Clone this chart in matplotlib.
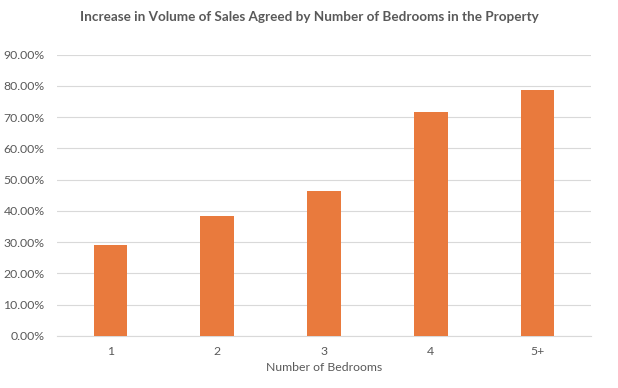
import matplotlib
matplotlib.use("Agg")
import matplotlib.pyplot as plt
from matplotlib.ticker import FuncFormatter, MultipleLocator

categories = ["1", "2", "3", "4", "5+"]
values = [0.291, 0.383, 0.464, 0.716, 0.788]

plt.rcParams['font.family'] = ['Lato', 'DejaVu Sans']
text_color = "#595959"

fig = plt.figure(figsize=(6.18, 3.88), dpi=100)
ax = fig.add_axes([57/618, 1 - 336/388, (591-57)/618, (336-54.7)/388])

x = range(len(categories))
ax.bar(x, values, width=0.315, color="#E97A3D", zorder=3)
ax.set_xlim(-0.5, len(categories) - 0.5)
ax.set_ylim(0, 0.9)
ax.yaxis.set_major_locator(MultipleLocator(0.1))
ax.yaxis.set_major_formatter(FuncFormatter(lambda v, p: f"{v*100:.2f}%"))
ax.set_xticks(list(x))
ax.set_xticklabels(categories)
ax.grid(axis='y', color="#d9d9d9", linewidth=0.8, zorder=0)
for s in ['top', 'right', 'left']:
    ax.spines[s].set_visible(False)
ax.spines['bottom'].set_color("#d9d9d9")
ax.spines['bottom'].set_linewidth(0.8)
ax.tick_params(axis='both', length=0, colors=text_color, labelsize=8.8)
ax.tick_params(axis='y', pad=9)
ax.tick_params(axis='x', pad=7)
ax.set_xlabel("Number of Bedrooms", color=text_color, fontsize=8.8, labelpad=4)
fig.text(0.5, 1 - 17/388, "Increase in Volume of Sales Agreed by Number of Bedrooms in the Property",
         ha='center', va='center', fontsize=9.7, fontweight='bold', color=text_color)
fig.savefig("out.png", dpi=100)
